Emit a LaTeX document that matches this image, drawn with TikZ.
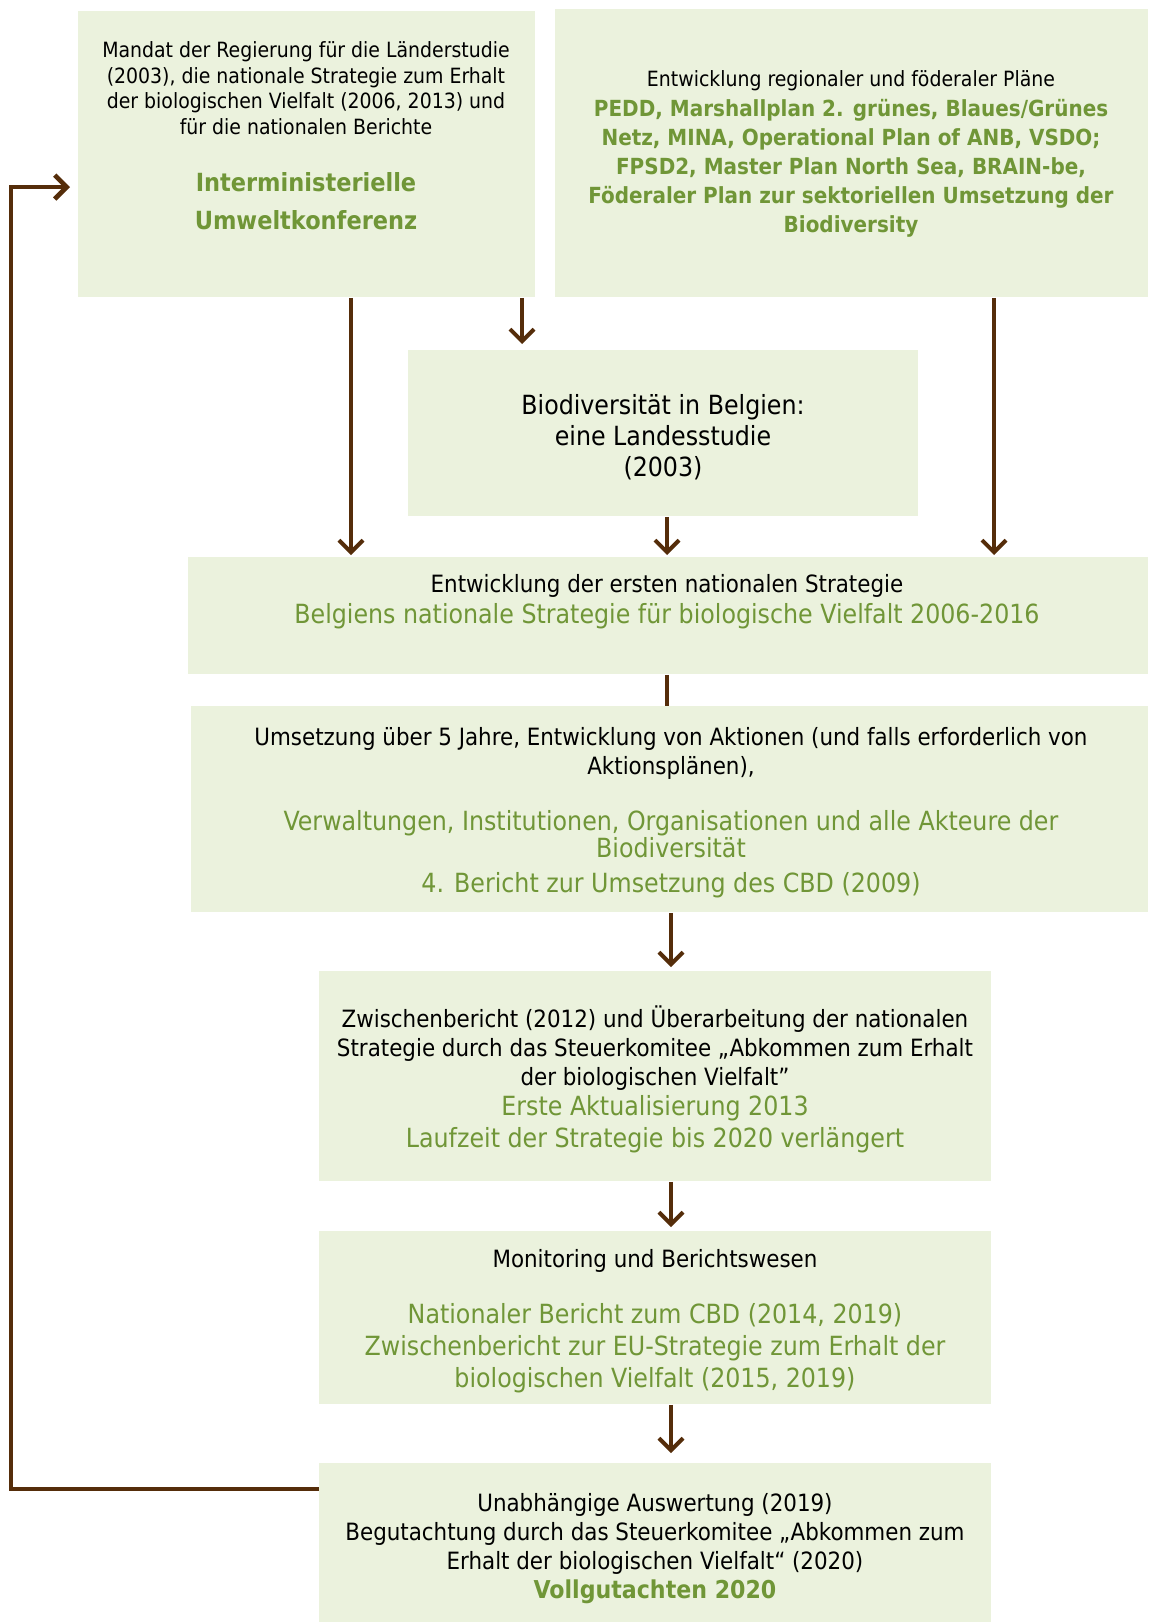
\documentclass[tikz,border=0pt]{standalone}
\usepackage{fontspec}
\setmainfont{DejaVu Sans Condensed}
\usetikzlibrary{arrows.meta}

\definecolor{feldgruen}{RGB}{235,242,221}
\definecolor{textgruen}{RGB}{112,150,55}
\definecolor{braun}{RGB}{85,45,10}

\tikzset{
  feld/.style={fill=feldgruen, anchor=north west, inner sep=0pt},
  klein/.style={align=center, inner sep=0pt, font=\fontsize{10.5}{12.75}\selectfont},
  mittel/.style={align=center, inner sep=0pt, font=\fontsize{11.9}{14.5}\selectfont},
  gruen/.style={align=center, inner sep=0pt, text=textgruen, font=\fontsize{13.2}{16}\selectfont},
  gruenfett/.style={align=center, inner sep=0pt, text=textgruen, font=\bfseries\fontsize{11.1}{14.5}\selectfont},
  pfeil/.style={draw=braun, line width=2pt, -{Straight Barb[length=6pt,width=12pt]}, shorten >=1pt},
}

\begin{document}
\begin{tikzpicture}[x=0.5pt,y=-0.5pt]
  \useasboundingbox (0,0) rectangle (1148,1622);

  % Boxes
  \node [feld, minimum width=457*0.5pt, minimum height=286*0.5pt] (mandat) at (78,11) {};
  \node [feld, minimum width=593*0.5pt, minimum height=288*0.5pt] (plaene) at (555,9) {};
  \node [feld, minimum width=510*0.5pt, minimum height=166*0.5pt] (studie) at (408,350) {};
  \node [feld, minimum width=960*0.5pt, minimum height=117*0.5pt] (strategie) at (188,557) {};
  \node [feld, minimum width=957*0.5pt, minimum height=206*0.5pt] (umsetzung) at (191,706) {};
  \node [feld, minimum width=672*0.5pt, minimum height=210*0.5pt] (zwischen) at (319,971) {};
  \node [feld, minimum width=672*0.5pt, minimum height=173*0.5pt] (monitoring) at (319,1231) {};
  \node [feld, minimum width=672*0.5pt, minimum height=159*0.5pt] (gutachten) at (319,1463) {};

  % Texts
  \node [klein] (mandat-a) at (306,88) {Mandat der Regierung für die Länderstudie\\(2003), die nationale Strategie zum Erhalt\\der biologischen Vielfalt (2006, 2013) und\\für die nationalen Berichte};
  \node [gruenfett, font=\bfseries\fontsize{12.5}{19}\selectfont] (mandat-b) at (306,201) {Interministerielle\\Umweltkonferenz};

  \node [klein] (plaene-a) at (851,81) {Entwicklung regionaler und föderaler Pläne};
  \node [gruenfett] (plaene-b) at (851,168) {PEDD, Marshallplan 2. grünes, Blaues/Grünes\\Netz, MINA, Operational Plan of ANB, VSDO;\\FPSD2, Master Plan North Sea, BRAIN-be,\\Föderaler Plan zur sektoriellen Umsetzung der\\Biodiversity};

  \node [mittel, font=\fontsize{13.2}{15.5}\selectfont] (studie-a) at (663,437) {Biodiversität in Belgien:\\eine Landesstudie\\(2003)};

  \node [mittel] (strategie-a) at (667,586) {Entwicklung der ersten nationalen Strategie};
  \node [gruen] (strategie-b) at (667,616) {Belgiens nationale Strategie für biologische Vielfalt 2006-2016};

  \node [mittel] (umsetzung-a) at (671,753) {Umsetzung über 5 Jahre, Entwicklung von Aktionen (und falls erforderlich von\\Aktionsplänen),};
  \node [gruen, font=\fontsize{13.2}{13.5}\selectfont] (umsetzung-b) at (671,834) {Verwaltungen, Institutionen, Organisationen und alle Akteure der\\Biodiversität};
  \node [gruen] (umsetzung-c) at (671,885) {4. Bericht zur Umsetzung des CBD (2009)};

  \node [mittel] (zwischen-a) at (655,1048) {Zwischenbericht (2012) und Überarbeitung der nationalen\\Strategie durch das Steuerkomitee „Abkommen zum Erhalt\\der biologischen Vielfalt”};
  \node [gruen] (zwischen-b) at (655,1124) {Erste Aktualisierung 2013\\Laufzeit der Strategie bis 2020 verlängert};

  \node [mittel] (monitoring-a) at (655,1261) {Monitoring und Berichtswesen};
  \node [gruen] (monitoring-b) at (655,1348) {Nationaler Bericht zum CBD (2014, 2019)\\Zwischenbericht zur EU-Strategie zum Erhalt der\\biologischen Vielfalt (2015, 2019)};

  \node [mittel] (gutachten-a) at (655,1534) {Unabhängige Auswertung (2019)\\Begutachtung durch das Steuerkomitee „Abkommen zum\\Erhalt der biologischen Vielfalt“ (2020)};
  \node [gruenfett, font=\bfseries\fontsize{12.3}{15}\selectfont] (gutachten-b) at (655,1592) {Vollgutachten 2020};

  % Connectors
  \coordinate (s1) at (351,0);
  \coordinate (s2) at (522,0);
  \coordinate (s3) at (667,0);
  \coordinate (s4) at (994,0);
  \coordinate (s5) at (671,0);
  \coordinate (r1) at (0,1489);
  \coordinate (l1) at (11,187);

  \draw [pfeil] (mandat.south -| s1) -- (strategie.north -| s1);
  \draw [pfeil, shorten >=3pt] (mandat.south -| s2) -- (studie.north -| s2);
  \draw [pfeil] (studie.south -| s3) -- (strategie.north -| s3);
  \draw [pfeil] (plaene.south -| s4) -- (strategie.north -| s4);
  \draw [draw=braun, line width=2pt] (strategie.south -| s3) -- (umsetzung.north -| s3);
  \draw [pfeil, shorten >=2pt] (umsetzung.south -| s5) -- (zwischen.north -| s5);
  \draw [pfeil, shorten >=2pt] (zwischen.south -| s5) -- (monitoring.north -| s5);
  \draw [pfeil, shorten >=5pt] (monitoring.south -| s5) -- (gutachten.north -| s5);
  \draw [pfeil, shorten >=4pt, line width=2.3pt] (gutachten.west |- r1) -| (l1) -- (mandat.west |- l1);
\end{tikzpicture}
\end{document}
